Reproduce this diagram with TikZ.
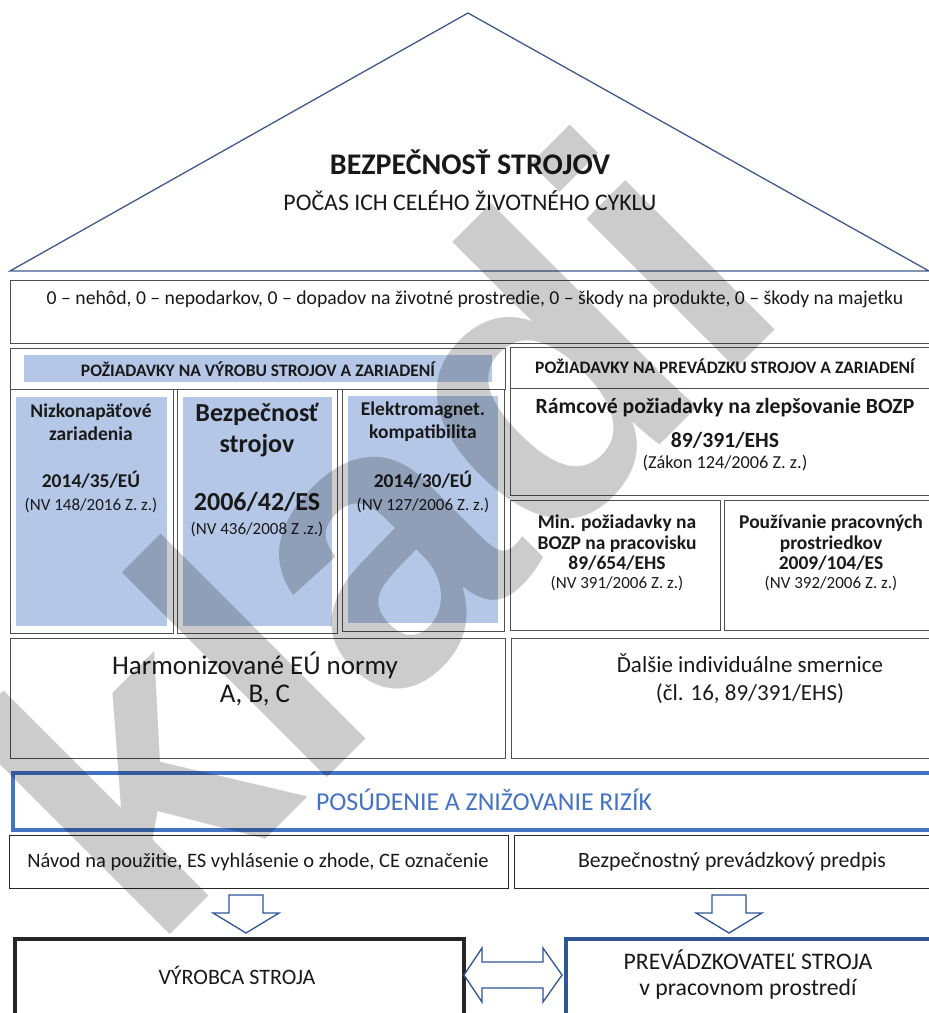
\documentclass[tikz,border=0pt]{standalone}
\usepackage{fontspec}
\setmainfont{Carlito}
\newfontfamily\wmfont{Liberation Sans}
\definecolor{roofblue}{HTML}{41598A}
\definecolor{fillblue}{HTML}{B4C7E7}
\definecolor{accent}{HTML}{4472C4}
\definecolor{darkblue}{HTML}{2F5597}
\definecolor{boxgray}{HTML}{505050}
\tikzset{
  box/.style={draw=boxgray, line width=1.3pt, rectangle, inner sep=0pt},
  fillbox/.style={fill=fillblue, draw=none, rectangle, inner sep=0pt},
  txt/.style={align=center, inner sep=0pt, text=black!90},
  fs/.style={font=\fontsize{#1}{#1}\selectfont},
  blockarrow/.style={draw=darkblue, line width=1.3pt, fill=white, line join=miter},
}
\begin{document}
\begin{tikzpicture}[x=1pt,y=-1pt]
\useasboundingbox (0,0) rectangle (929,1013);
% roof
\coordinate (apex) at (468,13);
\coordinate (bl) at (10,271);
\coordinate (br) at (929,271);
\draw[roofblue, line width=1.3pt, line join=miter] (bl) -- (apex) -- (br) -- cycle;
\node[txt, font=\bfseries\fontsize{30}{30}\selectfont] (t1) at (470,162) {BEZPEČNOSŤ STROJOV};
\node[txt, fs=23.8] (t2) at (470,201) {POČAS ICH CELÉHO ŽIVOTNÉHO CYKLU};
% zero row
\node[box, minimum width=940, minimum height=63, anchor=north west] (zero) at (10,280) {};
\node[txt, fs=19.7] (zerot) at (475,299) {0 – nehôd, 0 – nepodarkov, 0 – dopadov na životné prostredie, 0 – škody na produkte, 0 – škody na majetku};
% left section
\node[box, minimum width=495, minimum height=41, anchor=north west] (lh) at (10,348) {};
\node[fillbox, minimum width=468, minimum height=27, anchor=north west] (lhf) at (24,355) {};
\node[txt, font=\bfseries\fontsize{17.5}{17.5}\selectfont] (lht) at (258,369) {POŽIADAVKY NA VÝROBU STROJOV A ZARIADENÍ};
\node[box, minimum width=163, minimum height=244, anchor=north west] (c1) at (10,389) {};
\node[box, minimum width=160, minimum height=244, anchor=north west] (c2) at (177,389) {};
\node[box, minimum width=162, minimum height=242, anchor=north west] (c3) at (342,389) {};
\node[fillbox, minimum width=151, minimum height=229, anchor=north west] (c1f) at (16,397) {};
\node[fillbox, minimum width=149, minimum height=229, anchor=north west] (c2f) at (183,397) {};
\node[fillbox, minimum width=150, minimum height=227, anchor=north west] (c3f) at (348,396) {};
\node[txt, font=\bfseries\fontsize{19.5}{23}\selectfont] (c1a) at (91,422) {Nizkonapäťové\\zariadenia};
\node[txt, font=\bfseries\fontsize{19.5}{23}\selectfont] (c1b) at (91,480) {2014/35/EÚ};
\node[txt, fs=17] (c1c) at (91,505) {(NV 148/2016 Z. z.)};
\node[txt, font=\bfseries\fontsize{26}{31}\selectfont] (c2a) at (257,430) {Bezpečnosť\\strojov};
\node[txt, font=\bfseries\fontsize{26}{26}\selectfont] (c2b) at (257,502) {2006/42/ES};
\node[txt, fs=17] (c2c) at (257,529) {(NV 436/2008 Z .z.)};
\node[txt, font=\bfseries\fontsize{19.5}{23}\selectfont] (c3a) at (423,422) {Elektromagnet.\\kompatibilita};
\node[txt, font=\bfseries\fontsize{19.5}{23}\selectfont] (c3b) at (423,480) {2014/30/EÚ};
\node[txt, fs=17] (c3c) at (423,505) {(NV 127/2006 Z. z.)};
% right section
\node[box, minimum width=430, minimum height=41, anchor=north west] (rh) at (510,347) {};
\node[txt, font=\bfseries\fontsize{17.5}{17.5}\selectfont] (rht) at (725,366) {POŽIADAVKY NA PREVÁDZKU STROJOV A ZARIADENÍ};
\node[box, minimum width=430, minimum height=107, anchor=north west] (r1) at (510,388) {};
\node[txt, font=\bfseries\fontsize{21.7}{21.7}\selectfont] (r1a) at (725,408) {Rámcové požiadavky na zlepšovanie BOZP};
\node[txt, font=\bfseries\fontsize{21.7}{21.7}\selectfont] (r1b) at (725,440) {89/391/EHS};
\node[txt, fs=18.3] (r1c) at (725,463) {(Zákon 124/2006 Z. z.)};
\node[box, minimum width=210, minimum height=130, anchor=north west] (r2) at (510,500) {};
\node[box, minimum width=216, minimum height=130, anchor=north west] (r3) at (724,500) {};
\node[txt, font=\bfseries\fontsize{19.5}{20.5}\selectfont] (r2a) at (617,543) {Min. požiadavky na\\BOZP na pracovisku\\89/654/EHS};
\node[txt, fs=17] (r2b) at (617,583) {(NV 391/2006 Z. z.)};
\node[txt, font=\bfseries\fontsize{19.5}{20.5}\selectfont] (r3a) at (831,543) {Používanie pracovných\\prostriedkov\\2009/104/ES};
\node[txt, fs=17] (r3b) at (831,583) {(NV 392/2006 Z. z.)};
% norms row
\node[box, minimum width=495, minimum height=120, anchor=north west] (hn) at (10,638) {};
\node[txt, font=\fontsize{27}{28}\selectfont] (hnt) at (255,679) {Harmonizované EÚ normy\\A, B, C};
\node[box, minimum width=430, minimum height=120, anchor=north west] (dn) at (511,638) {};
\node[txt, font=\fontsize{23}{28}\selectfont] (dnt) at (750,679) {Ďalšie individuálne smernice\\(čl. 16, 89/391/EHS)};
% risk
\node[draw=accent, line width=3.5pt, rectangle, minimum width=940, minimum height=57, anchor=north west] (risk) at (11,771) {};
\node[txt, text=accent, fs=25.8] (riskt) at (484,800) {POSÚDENIE A ZNIŽOVANIE RIZÍK};
% docs
\node[box, draw=black!85, minimum width=499, minimum height=53, anchor=north west] (nav) at (9,835) {};
\node[txt, fs=20.5] (navt) at (258,862) {Návod na použitie, ES vyhlásenie o zhode, CE označenie};
\node[box, draw=black!85, minimum width=430, minimum height=53, anchor=north west] (bpp) at (514,835) {};
\node[txt, fs=21.8] (bppt) at (732,862) {Bezpečnostný prevádzkový predpis};
% bottom boxes
\node[draw=black!85, line width=3.5pt, rectangle, minimum width=449, minimum height=100, anchor=north west] (vyr) at (13,937) {};
\node[txt, fs=22] (vyrt) at (237,975) {VÝROBCA STROJA};
\node[draw=darkblue, line width=3.5pt, rectangle, minimum width=380, minimum height=100, anchor=north west] (prev) at (564,937) {};
\node[txt, font=\fontsize{23.7}{26}\selectfont] (prevt) at (748,975) {PREVÁDZKOVATEĽ STROJA\\v pracovnom prostredí};
% block arrows
\draw[blockarrow] (229,895) -- (263,895) -- (263,913) -- (279,913) -- (246,933) -- (213,913) -- (229,913) -- cycle;
\draw[blockarrow] (712,895) -- (746,895) -- (746,913) -- (762,913) -- (729,933) -- (696,913) -- (712,913) -- cycle;
\draw[blockarrow] (464,975) -- (482,948) -- (482,962) -- (543,962) -- (543,948) -- (562,975)
  -- (543,1002) -- (543,988) -- (482,988) -- (482,1002) -- cycle;
% watermark
\node[inner sep=0pt, anchor=base west, rotate=45, text=black, opacity=0.2,
  font=\wmfont\bfseries\fontsize{400}{400}\selectfont] (wm) at (150,955) {kladi};
\end{tikzpicture}
\end{document}
